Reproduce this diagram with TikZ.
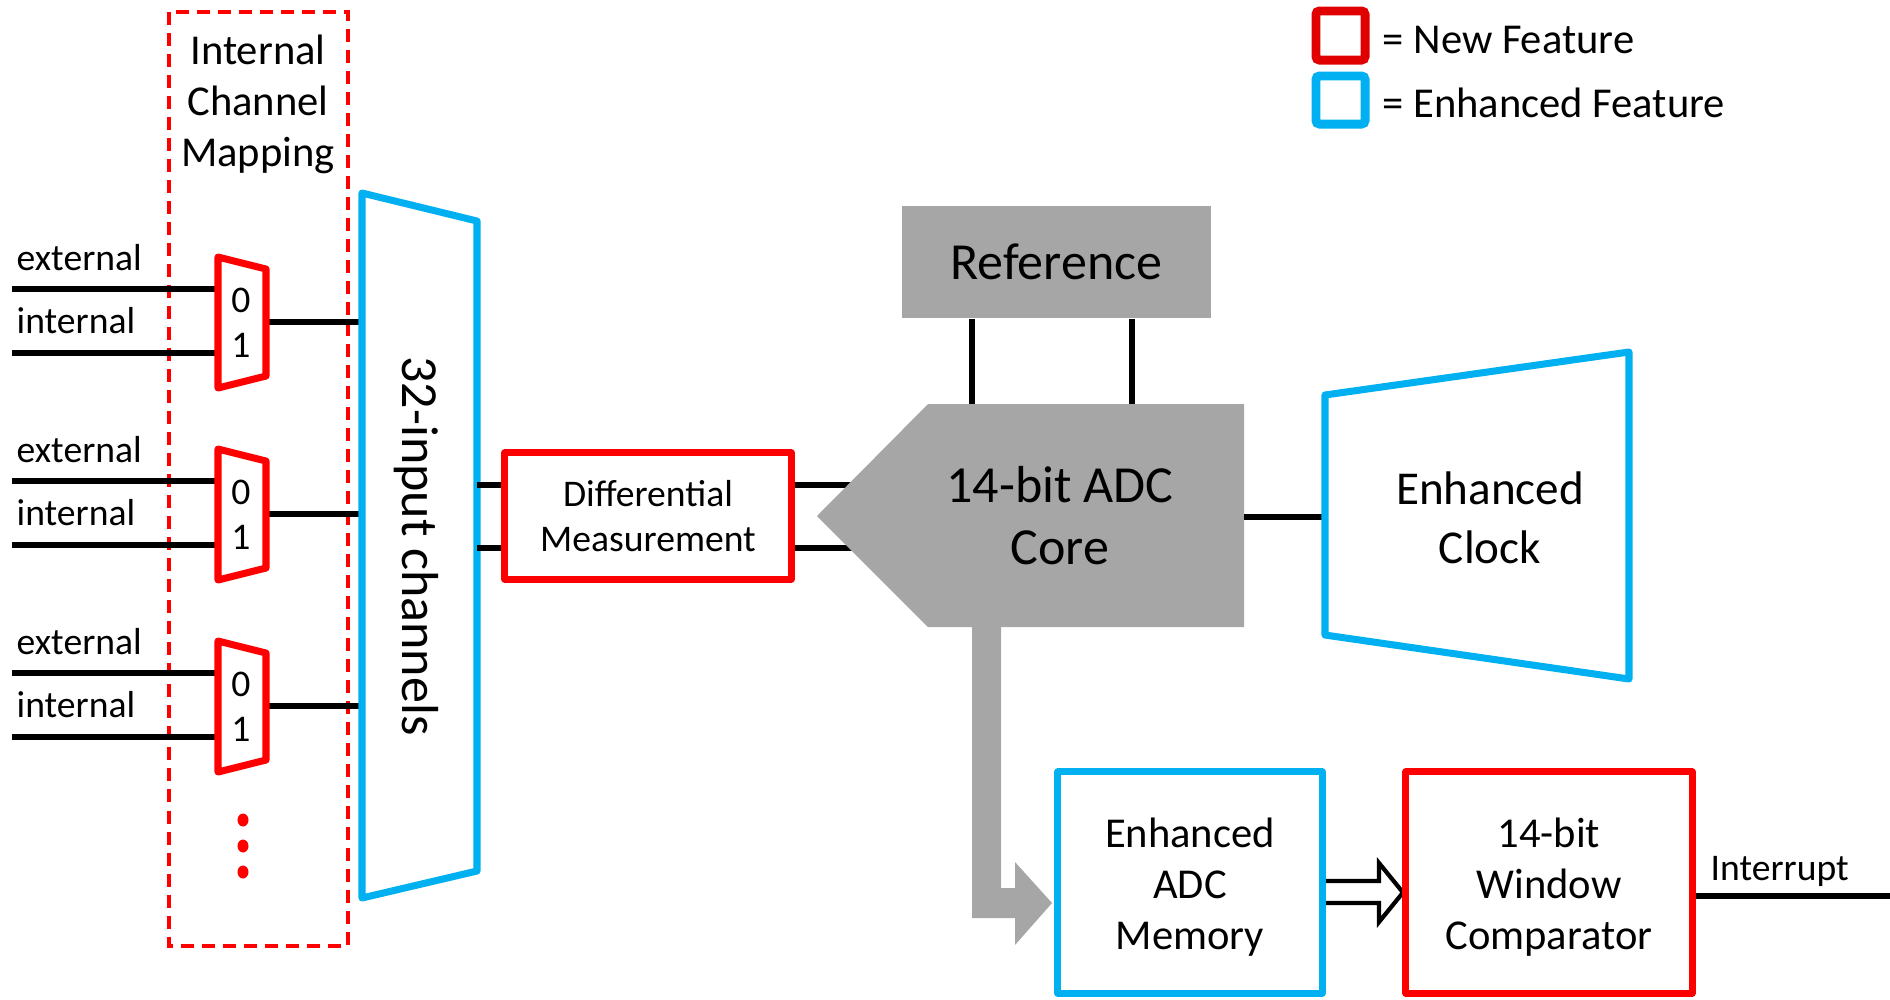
\documentclass[tikz,border=0pt]{standalone}
\usepackage{fontspec}
\setmainfont{Carlito}
\definecolor{nred}{HTML}{FF0000}
\definecolor{lred}{HTML}{E00000}
\definecolor{eblue}{HTML}{00B0F0}
\definecolor{cgray}{HTML}{A6A6A6}
\tikzset{
 newbox/.style={draw=nred, line width=2pt, line join=round},
 enhbox/.style={draw=eblue, line width=2pt, line join=round},
 wire/.style={draw=black, line width=1.45pt},
 grayblk/.style={fill=cgray, draw=none},
 tXL/.style={font=\fontsize{14.8pt}{17.6pt}\selectfont, align=center, inner sep=0pt},
 tL/.style={font=\fontsize{13.4pt}{16.8pt}\selectfont, align=center, inner sep=0pt},
 tM/.style={font=\fontsize{12.1pt}{14.5pt}\selectfont, align=center, inner sep=0pt},
 tS/.style={font=\fontsize{10.7pt}{12.8pt}\selectfont, align=center, inner sep=0pt},
}
\begin{document}
\begin{tikzpicture}[x=0.01cm,y=-0.01cm]
\useasboundingbox (0,0) rectangle (1890,999);
% legend
\node[draw=lred, line width=2.55pt, rounded corners=1pt, minimum width=0.49cm, minimum height=0.49cm, inner sep=0pt] (legnew) at (1340.5,35.5) {};
\node[draw=eblue, line width=2.55pt, rounded corners=1pt, minimum width=0.49cm, minimum height=0.48cm, inner sep=0pt] (legenh) at (1340.5,100) {};
\node[tM, anchor=base west] (legnewtxt) at (1382,53) {= New Feature};
\node[tM, anchor=base west] (legenhtxt) at (1382,117) {= Enhanced Feature};
% internal channel mapping
\draw[draw=nred, line width=1.05pt, dash pattern=on 0.13cm off 0.08cm] (169,12) rectangle (348,946);
\node[tM] (icm) at (258,104) {Internal\\Channel\\Mapping};
\foreach \i/\y in {1/322,2/514,3/706}{
  \coordinate (ein\i) at (12,\y-33);
  \coordinate (mext\i) at (218,\y-33);
  \coordinate (iin\i) at (12,\y+31);
  \coordinate (mint\i) at (218,\y+31);
  \coordinate (mout\i) at (266,\y);
  \coordinate (cin\i) at (362,\y);
  \draw[wire] (ein\i) -- (mext\i);
  \draw[wire] (iin\i) -- (mint\i);
  \draw[wire] (mout\i) -- (cin\i);
  \draw[newbox, fill=white] (218,\y-65) -- (266,\y-53) -- (266,\y+54) -- (218,\y+66) -- cycle;
  \node[tS] (zero\i) at (241,\y-22) {0};
  \node[tS] (one\i) at (241,\y+23) {1};
  \node[tS, anchor=base west] (extl\i) at (16,\y-52) {external};
  \node[tS, anchor=base west] (intl\i) at (16,\y+11) {internal};
}
\foreach \d in {820,846,872}{
  \fill[nred] (243,\d) ellipse [x radius=0.055cm, y radius=0.065cm];
}
% 32-input channels
\draw[enhbox, fill=white] (362,193) -- (477,221) -- (477,871) -- (362,898) -- cycle;
\node[tXL, rotate=-90] (chan) at (416,546) {32-input channels};
% differential
\coordinate (c32a) at (477,485);
\coordinate (c32b) at (477,548);
\node[newbox, tS, minimum width=2.86cm, minimum height=1.26cm] (diff) at (648,516) {Differential\\Measurement};
\coordinate (adcua) at (856,485);
\coordinate (adcub) at (856,548);
\draw[wire] (c32a) -- (c32a -| diff.west);
\draw[wire] (c32b) -- (c32b -| diff.west);
\draw[wire] (adcua -| diff.east) -- (adcua);
\draw[wire] (adcub -| diff.east) -- (adcub);
% ADC core
\fill[cgray] (817,516) -- (928,404) -- (1244,404) -- (1244,627) -- (928,627) -- cycle;
\node[tXL] (adc) at (1060,516) {14-bit ADC\\Core};
% reference
\node[grayblk, tXL, minimum width=3.09cm, minimum height=1.12cm] (ref) at (1056.5,262) {Reference};
\coordinate (adctop1) at (972,404);
\coordinate (adctop2) at (1132,404);
\draw[wire] (adctop1 |- ref.south) -- (adctop1);
\draw[wire] (adctop2 |- ref.south) -- (adctop2);
% clock
\coordinate (adcout) at (1244,517);
\coordinate (clkin) at (1325,517);
\draw[wire] (adcout) -- (clkin);
\draw[enhbox] (1325,395) -- (1629,352) -- (1629,679) -- (1325,635) -- cycle;
\node[tL] (clk) at (1490,518) {Enhanced\\Clock};
% gray arrow ADC -> memory
\fill[cgray] (972,620) -- (1001,620) -- (1001,888) -- (1015,888) -- (1015,862) -- (1052,903) -- (1015,945) -- (1015,918) -- (972,918) -- cycle;
% hollow arrow memory -> comparator
\draw[line width=1.2pt, fill=white, line join=miter] (1322,881) -- (1379,881) -- (1379,863) -- (1403,892.5) -- (1379,922) -- (1379,903) -- (1322,903) -- cycle;
% memory and comparator
\node[enhbox, minimum width=2.64cm, minimum height=2.21cm] (mem) at (1190,882.5) {};
\node[tM] (memtxt) at (1190,887.5) {Enhanced\\ADC\\Memory};
\node[newbox, minimum width=2.86cm, minimum height=2.21cm] (cmp) at (1549,882.5) {};
\node[tM] (cmptxt) at (1549,887.5) {14-bit\\Window\\Comparator};
\coordinate (intend) at (1890,896);
\draw[wire] (cmp.east |- intend) -- (intend);
\node[tS, anchor=base west] (intr) at (1710,880) {Interrupt};
\end{tikzpicture}
\end{document}
